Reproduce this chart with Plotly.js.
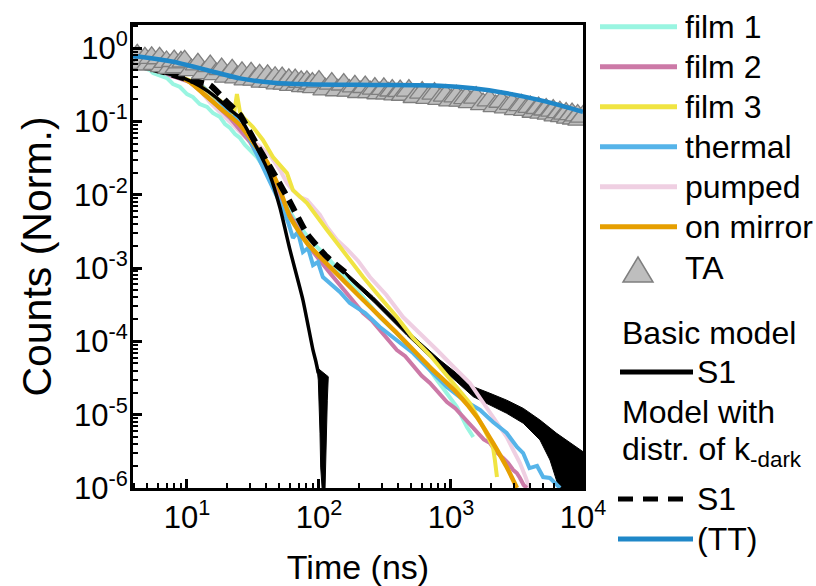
<!DOCTYPE html>
<html><head><meta charset="utf-8">
<script src="https://cdn.plot.ly/plotly-3.0.1.min.js"></script>
<style>html,body{margin:0;padding:0;background:#fff}</style>
</head><body><div id="chart" style="width:816px;height:586px"></div>
<script>
// ---------------- data ----------------
const film1T = [4.4,5.24,5.53,6.24,7.05,7.84,8.85,10.0,11.1,12.5,14.2,15.7,17.8,19.4,21.2,23.1,25.2,27.5,30.0,33.9,40.4,50.7,65.7,85.5,115,163,216,289,389,516,635,783,932,1110,1320,1475];
const film1Y = [0.56,0.505,0.459,0.418,0.392,0.325,0.296,0.237,0.216,0.173,0.158,0.131,0.115,0.0925,0.0815,0.0675,0.0596,0.0479,0.0409,0.0328,0.0205,9.93e-3,4.53e-3,2.42e-3,1.42e-3,6.88e-4,4.04e-4,2.15e-4,1.30e-4,7.63e-5,5.07e-5,2.97e-5,1.98e-5,1.27e-5,6.8e-6,4.97e-6];

const film2T = [4.4,5.24,7.43,10.5,14.9,21.2,30.0,42.5,60.3,85.5,121,163,216,250,289,335,389,450,516,600,692,805,932,1080,1240,1400,1570,1770,1974,2200,2480,2700,2960,3150,3330,3550,3750];
const film2Y = [0.60,0.555,0.431,0.346,0.203,0.112,0.0525,0.0186,5.3e-3,1.88e-3,8.57e-4,4.57e-4,2.44e-4,1.95e-4,1.43e-4,1.08e-4,7.63e-5,6.3e-5,4.76e-5,3.4e-5,2.71e-5,2.0e-5,1.49e-5,1.22e-5,9.3e-6,7.0e-6,5.8e-6,4.6e-6,4.11e-6,3.1e-6,2.57e-6,2.2e-6,1.76e-6,1.6e-6,1.37e-6,1.1e-6,1.0e-6];

const film3T = [4.4,5.24,7.43,11.9,16.3,21.2,22.7,23.9,25.2,26.6,31.6,37.6,44.8,57.2,63.5,81.1,115,137,216,289,389,516,692,872,1110,1390,1750,2080,2150,2230];
const film3Y = [0.58,0.555,0.459,0.335,0.216,0.153,0.127,0.237,0.135,0.115,0.0841,0.056,0.0328,0.0198,0.0116,7.73e-3,3.31e-3,2.2e-3,7.56e-4,4.04e-4,2.15e-4,1.11e-4,6.52e-5,3.94e-5,2.39e-5,1.44e-5,6.8e-6,3.62e-6,2.41e-6,1.41e-6];

const thermalT = [4.4,5.24,8.11,12.5,17.8,25.2,30.0,35.7,42.5,50.7,58.2,63.5,69.2,75.6,82.6,90.1,98.3,107,121,144,171,224,289,389,516,692,932,1240,1660,2080,2640,3160,3520,3930,4490,4990,5620,6350,6700];
const thermalY = [0.60,0.555,0.418,0.325,0.184,0.098,0.056,0.0299,0.0150,7.73e-3,4.26e-3,2.58e-3,3.11e-3,1.66e-3,1.88e-3,1.10e-3,1.21e-3,7.56e-4,6.27e-4,4.72e-4,3.34e-4,2.44e-4,1.57e-4,1.045e-4,6.95e-5,4.07e-5,2.39e-5,1.59e-5,1.16e-5,7.94e-6,5.63e-6,3.62e-6,3.0e-6,1.87e-6,2.0e-6,1.41e-6,1.37e-6,1.1e-6,1.0e-6];

const pumpedT = [4.4,5.24,6.24,8.11,10,12.5,14.9,17.8,22.3,27.5,34.5,42.5,50.7,57.2,63.5,71.8,81.1,89.9,101.8,115,137,163,198,243,324,433,581,783,1030,1390,1660,1974,2320,2640,2960,3330,3670,3930];
const pumpedY = [0.62,0.572,0.431,0.405,0.368,0.269,0.184,0.135,0.0896,0.0615,0.0479,0.0349,0.0218,0.0145,0.0116,9.33e-3,8.49e-3,6.82e-3,5.3e-3,3.64e-3,2.42e-3,1.82e-3,1.25e-3,7.56e-4,4.3e-4,2.15e-4,1.30e-4,7.63e-5,4.62e-5,2.71e-5,1.69e-5,1.06e-5,7.24e-6,4.97e-6,3.30e-6,2.19e-6,1.41e-6,1.0e-6];

const mirrorT = [4.4,5.24,8.11,10.5,13.7,17.8,25.2,32.7,40.4,50.7,60.3,81.1,121,216,389,692,1110,1570,2080,2640,3160];
const mirrorY = [0.58,0.537,0.431,0.346,0.230,0.153,0.0896,0.0479,0.0281,0.0116,4.98e-3,2.2e-3,1.04e-3,3.67e-4,1.30e-4,4.47e-5,1.98e-5,9.31e-6,4.11e-6,1.93e-6,1.0e-6];

// TA (transient absorption) points
const taT = [4.2,4.5,4.8,5.1,5.4,5.8,6.2,6.6,7.0,7.5,8.0,8.5,9.0,
  9.6,10.8,12.1,13.5,15,16.6,18.3,20.1,22,24,26.1,28.3,30.6,33,35.5,38.1,40.8,43.6,46.5,49.5,52.6,55.8,59.1,62.5,66,69.6,73.3,77.1,81,85,89.1,93.3,
  100,112,125,139,154,170,187,205,224,244,265,287,310,334,359,385,412,440,
  480,540,605,675,750,830,915,1005,1100,1200,1305,1415,
  1550,1750,1960,2180,2410,2650,2900,3160,3430,3710,4000,4300,4610,4930,5260,5600,5950,6310,6680,7060,7450,7850,8260,8680,9110,9550,9990];
const taY = [0.80,0.63,0.73,0.60,0.74,0.61,0.73,0.57,0.65,0.54,0.67,0.55,0.64,
  0.661,0.503,0.604,0.458,0.570,0.444,0.520,0.409,0.501,0.400,0.462,0.375,0.454,0.374,0.427,0.350,0.420,0.347,0.396,0.332,0.391,0.329,0.371,0.317,0.367,0.317,0.349,0.305,0.348,0.305,0.330,0.294,
  0.350,0.274,0.329,0.267,0.320,0.264,0.302,0.253,0.296,0.252,0.281,0.243,0.279,0.242,0.265,0.234,0.261,0.232,
  0.264,0.216,0.248,0.210,0.241,0.204,0.226,0.194,0.220,0.193,0.209,0.184,
  0.212,0.173,0.194,0.162,0.186,0.156,0.174,0.148,0.167,0.144,0.158,0.136,0.153,0.132,0.146,0.128,0.141,0.121,0.134,0.119,0.128,0.113,0.126,0.110,0.121,0.106,0.117];

// Basic model S1
const basicT = [3.9,5.24,9.3,12.5,16.9,21.2,25.2,33.9,42.5,50.7,60.3,75.6,90.1,94.9,98.8];
const basicY = [0.56,0.52,0.393,0.305,0.209,0.144,0.112,0.0435,0.0186,6.6e-3,1.77e-3,3.67e-4,7.6e-5,5.24e-5,3.7e-5];
// spread of the basic model at its steep end (outline)
const basicSpreadT = [96.5,117.6,115.6,114.3,111.6,111,106,104.8,103,101.8,100.5,98.8,96.5];
const basicSpreadY = [4.4e-5,3.3e-5,1.58e-5,5.6e-6,1.93e-6,9e-7,9e-7,1.17e-6,1.93e-6,5.6e-6,1.58e-5,2.97e-5,4.4e-5];

// Model with distribution of k-dark: S1 (dashed) and its spread band
const distT = [3.9,5.24,10.5,14.9,20.1,25.2,33.9,44.8,60.3,80.7,114.4,162];
const distY = [0.58,0.537,0.368,0.315,0.184,0.123,0.0477,0.0205,7.98e-3,2.99e-3,1.43e-3,8.49e-4];
const bandUpperT = [144,258,461,826,1104,1475,1974,2642,3531,4722,6319,8450,10000];
const bandUpperY = [1.045e-3,4.07e-4,1.43e-4,5.57e-5,3.67e-5,2.41e-5,1.96e-5,1.58e-5,1.22e-5,8.47e-6,5.57e-6,3.86e-6,3.13e-6];
const bandLowerT = [10000,6698,5623,4722,3531,2642,1974,1475,1104,826,461,258,144];
const bandLowerY = [9e-7,9e-7,2.41e-6,4.52e-6,7.64e-6,1.045e-5,1.355e-5,1.76e-5,2.82e-5,4.52e-5,1.22e-4,3.48e-4,9.23e-4];

// (TT) from the model with distribution
const ttT = [3.9,4.41,7.87,14.1,25.2,45.1,80.7,258,826,1475,2642,4722,8450,10000];
const ttY = [0.78,0.766,0.655,0.505,0.388,0.338,0.322,0.315,0.308,0.284,0.243,0.196,0.148,0.136];

const xTickVals = [10,100,1000,10000];
const xTickText = ['10<sup>1</sup>','10<sup>2</sup>','10<sup>3</sup>','10<sup>4</sup>'];
const yTickVals = [1e-6,1e-5,1e-4,1e-3,1e-2,1e-1,1];
const yTickText = ['10<sup>-6</sup>','10<sup>-5</sup>','10<sup>-4</sup>','10<sup>-3</sup>','10<sup>-2</sup>','10<sup>-1</sup>','10<sup>0</sup>'];

const seriesNames = ['film 1','film 2','film 3','thermal','pumped','on mirror'];
const seriesColors = ['#99F5E1','#CC79A7','#F0E442','#56B4E9','#EFCFE2','#E69F00'];
const ttColor = '#1F87C8';

// ---------------- figure ----------------
const FONT = 'Liberation Sans, Arial, sans-serif';
const L = 133, R = 583, T = 25, B = 488;
const PX = x => (x - L) / (R - L);
const PY = y => (B - y) / (B - T);
const mkFont = s => ({family:FONT, size:s, color:'#000000'});

function dataLine(t, y, i, w) {
  return {type:'scatter', mode:'lines', x:t, y:y, name:seriesNames[i], showlegend:false,
          line:{color:seriesColors[i], width:w||4}};
}

const traces = [
  {type:'scatter', mode:'lines', x:bandUpperT.concat(bandLowerT), y:bandUpperY.concat(bandLowerY),
   fill:'toself', fillcolor:'#000', line:{color:'#000', width:1}, showlegend:false, name:'dist band'},
  dataLine(pumpedT, pumpedY, 4),
  dataLine(film1T, film1Y, 0),
  dataLine(film2T, film2Y, 1),
  dataLine(thermalT, thermalY, 3),
  dataLine(film3T, film3Y, 2),
  {type:'scatter', mode:'lines', x:mirrorT, y:mirrorY, name:seriesNames[5], showlegend:false,
   line:{color:seriesColors[5], width:4.5, shape:'spline', smoothing:0.6}},
  {type:'scatter', mode:'lines', x:basicT, y:basicY, line:{color:'#000', width:3.5, shape:'spline', smoothing:0.5}, showlegend:false, name:'Basic S1'},
  {type:'scatter', mode:'lines', x:basicSpreadT, y:basicSpreadY, fill:'toself', fillcolor:'#000', line:{color:'#000', width:1}, showlegend:false, name:'Basic spread'},
  {type:'scatter', mode:'lines', x:distT, y:distY, line:{color:'#000', width:6, dash:'13px,7px', shape:'spline', smoothing:0.5}, showlegend:false, name:'dist S1'},
  {type:'scatter', mode:'markers', x:taT, y:taY, name:'TA', showlegend:false,
   marker:{symbol:'triangle-up', size:22, color:'#BEBEBE', line:{color:'#7F7F7F', width:1.3}}},
  {type:'scatter', mode:'lines', x:ttT, y:ttY, line:{color:ttColor, width:4.5, shape:'spline', smoothing:0.7}, showlegend:false, name:'(TT)'}
];

// manual legend
const legRowY = [26.7,66.7,106.7,146.7,186.7,226.7];
const shapes = [];
const annotations = [];
function addText(x, y, text) {
  annotations.push({xref:'paper', yref:'paper', x:PX(x), y:PY(y), text:text, showarrow:false,
    xanchor:'left', yanchor:'middle', font:mkFont(32)});
}
seriesNames.forEach((n,i) => {
  shapes.push({type:'line', xref:'paper', yref:'paper', x0:PX(600), x1:PX(677), y0:PY(legRowY[i]), y1:PY(legRowY[i]),
    line:{color:seriesColors[i], width:5}});
  addText(683, legRowY[i], n);
});
shapes.push({type:'path', xref:'paper', yref:'paper',
  path:`M ${PX(623)} ${PY(282)} L ${PX(653)} ${PY(282)} L ${PX(638)} ${PY(257)} Z`,
  fillcolor:'#BEBEBE', line:{color:'#7F7F7F', width:1.5}});
addText(683, 268, 'TA');
addText(620, 333, 'Basic model');
shapes.push({type:'line', xref:'paper', yref:'paper', x0:PX(620), x1:PX(693), y0:PY(372), y1:PY(372), line:{color:'#000', width:5}});
addText(695, 372, 'S1');
addText(620, 412, 'Model with');
addText(620, 451, 'distr. of k<sub>-dark</sub>');
shapes.push({type:'line', xref:'paper', yref:'paper', x0:PX(618), x1:PX(688), y0:PY(499), y1:PY(499), line:{color:'#000', width:5, dash:'15px,10px'}});
addText(695, 499, 'S1');
shapes.push({type:'line', xref:'paper', yref:'paper', x0:PX(618), x1:PX(693), y0:PY(539), y1:PY(539), line:{color:ttColor, width:5}});
addText(695, 539, '(TT)');

function axisBase() {
  return {
    type:'log', showgrid:false, zeroline:false, showline:true, linewidth:3, linecolor:'#000', mirror:true,
    ticks:'inside', ticklen:9, tickwidth:3, tickcolor:'#000', tickmode:'array',
    tickfont:mkFont(31),
    minor:{ticks:'inside', ticklen:5, tickwidth:2, tickcolor:'#000', dtick:'D1', showgrid:false}
  };
}

const layout = {
  width:816, height:586,
  font:mkFont(31),
  margin:{l:L, r:816-R, t:T, b:586-B, pad:0},
  paper_bgcolor:'#fff', plot_bgcolor:'#fff',
  showlegend:false,
  xaxis:Object.assign(axisBase(), {
    range:[Math.log10(3.9), 4], tickvals:xTickVals, ticktext:xTickText,
    title:{text:'Time (ns)', font:mkFont(34), standoff:22}
  }),
  yaxis:Object.assign(axisBase(), {
    range:[-6, 0.317], tickvals:yTickVals, ticktext:yTickText, ticklabelstandoff:-4,
    title:{text:'Counts (Norm.)', font:mkFont(41), standoff:10}
  }),
  shapes:shapes, annotations:annotations
};

Plotly.newPlot('chart', traces, layout, {displayModeBar:false});
</script></body></html>
